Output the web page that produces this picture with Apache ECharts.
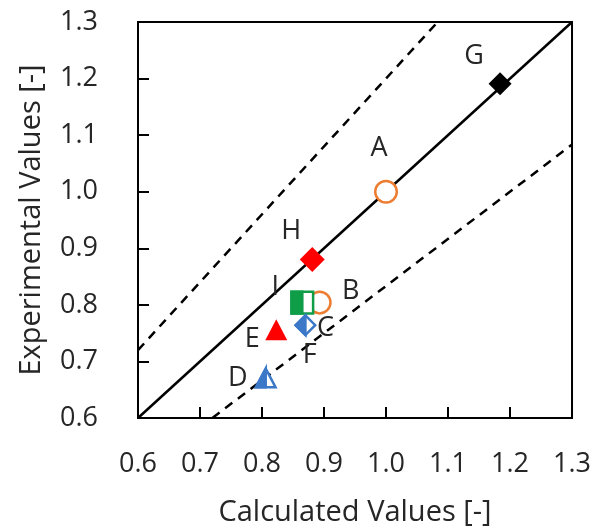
<!DOCTYPE html>
<html>
<head>
<meta charset="utf-8">
<script src="https://cdn.jsdelivr.net/npm/echarts@6/dist/echarts.min.js"></script>
<style>
html,body{margin:0;padding:0;background:#fff;}
#chart{width:594px;height:532px;}
</style>
</head>
<body>
<div id="chart"></div>
<script>
// ---- data ----
var pointNames = ['G', 'A', 'H', 'B', 'I', 'C', 'E', 'D'];
var calcValues = [1.184, 1.000, 0.881, 0.893, 0.865, 0.870, 0.823, 0.806];
var expValues  = [1.191, 1.000, 0.880, 0.804, 0.804, 0.764, 0.755, 0.670];
var extraLabelNames = ['F'];
var extraLabelCalc = [0.877];
var extraLabelExp = [0.711];
var parityLine = [[0.6, 0.6], [1.3, 1.3]];
var upperBound = [[0.6, 0.72], [1.0833, 1.3]];
var lowerBound = [[0.72, 0.6], [1.3, 1.0833]];
var tickLabels = ['0.6', '0.7', '0.8', '0.9', '1.0', '1.1', '1.2', '1.3'];

// ---- styles ----
var FONT = '"Open Sans", "Noto Sans", sans-serif';
var TEXT = '#262626';
var markerStyle = {
  G: {shape: 'diamond', fill: 'full', color: '#000000', size: 23},
  A: {shape: 'circle', fill: 'none', color: '#ED7D31', size: 24},
  H: {shape: 'diamond', fill: 'full', color: '#FF0000', size: 25},
  B: {shape: 'circle', fill: 'none', color: '#ED7D31', size: 24},
  I: {shape: 'square', fill: 'half', color: '#0F9D48', size: 24},
  C: {shape: 'diamond', fill: 'half', color: '#3B78C8', size: 22},
  E: {shape: 'triangle', fill: 'full', color: '#FF0000', size: 22},
  D: {shape: 'triangle', fill: 'half', color: '#3B78C8', size: 22}
};
var labelOffset = {
  G: [-26, -27], A: [-7, -43], H: [-21, -28], B: [31, -11], I: [-27, -15],
  C: [20, 3], E: [-24, 9], D: [-28, 0]
};

var pointData = pointNames.map(function (n, i) { return [calcValues[i], expValues[i], i]; });
var extraData = extraLabelNames.map(function (n, i) { return [extraLabelCalc[i], extraLabelExp[i], i]; });

function shapePoints(shape, h) {
  if (shape === 'diamond') return [[0, -h], [h, 0], [0, h], [-h, 0]];
  if (shape === 'triangle') return [[0, -h], [h, h * 0.9], [-h, h * 0.9]];
  if (shape === 'square') return [[-h, -h], [h, -h], [h, h], [-h, h]];
  return null;
}
function halfPoints(shape, h) {
  if (shape === 'diamond') return [[0, -h], [0, h], [-h, 0]];
  if (shape === 'triangle') return [[0, -h], [0, h * 0.9], [-h, h * 0.9]];
  if (shape === 'square') return [[-h, -h], [0, -h], [0, h], [-h, h]];
  return null;
}
function shift(pts, cx, cy) { return pts.map(function (p) { return [p[0] + cx, p[1] + cy]; }); }

function renderMarker(params, api) {
  var idx = api.value(2);
  var name = pointNames[idx];
  var st = markerStyle[name];
  var c = api.coord([api.value(0), api.value(1)]);
  var h = st.size / 2;
  var children = [];
  if (st.shape === 'circle') {
    children.push({type: 'circle', shape: {cx: c[0], cy: c[1], r: h - 1.2},
      style: {fill: st.fill === 'full' ? st.color : '#ffffff', stroke: st.color, lineWidth: 2.5}});
  } else if (st.fill === 'full') {
    children.push({type: 'polygon', shape: {points: shift(shapePoints(st.shape, h), c[0], c[1])},
      style: {fill: st.color}});
  } else {
    var hh = h - 1.2;
    children.push({type: 'polygon', shape: {points: shift(shapePoints(st.shape, hh), c[0], c[1])},
      style: {fill: '#ffffff', stroke: st.color, lineWidth: 2.5, lineJoin: 'miter'}});
    children.push({type: 'polygon', shape: {points: shift(halfPoints(st.shape, hh), c[0], c[1])},
      style: {fill: st.color, stroke: st.color, lineWidth: 2.5, lineJoin: 'miter'}});
  }
  var off = labelOffset[name];
  children.push({type: 'text', style: {text: name, x: c[0] + off[0], y: c[1] + off[1],
    align: 'center', verticalAlign: 'middle', fontFamily: FONT, fontSize: 27, fill: TEXT}});
  return {type: 'group', children: children};
}

function renderExtraLabel(params, api) {
  var c = api.coord([api.value(0), api.value(1)]);
  return {type: 'text', style: {text: extraLabelNames[api.value(2)], x: c[0], y: c[1],
    align: 'center', verticalAlign: 'middle', fontFamily: FONT, fontSize: 27, fill: TEXT}};
}

var chart = echarts.init(document.getElementById('chart'), null, {renderer: 'canvas'});
var axisCommon = {
  type: 'value', min: 0.6, max: 1.3, interval: 0.1,
  axisLine: {show: true, lineStyle: {color: '#000', width: 2}},
  axisTick: {show: true, inside: true, length: 11, lineStyle: {color: '#000', width: 2}},
  splitLine: {show: false},
  nameLocation: 'middle',
  nameTextStyle: {fontFamily: FONT, fontSize: 29, color: TEXT, width: 500, overflow: 'none'}
};
chart.setOption({
  animation: false,
  backgroundColor: '#ffffff',
  grid: {left: 138, right: 17, top: 22, bottom: 112, show: true, borderColor: '#000', borderWidth: 2, containLabel: false},
  xAxis: Object.assign({}, axisCommon, {
    name: 'Calculated Values [-]', nameGap: 80,
    axisLabel: {margin: 33, fontFamily: FONT, fontSize: 27, color: TEXT,
      formatter: function (v) { return tickLabels[Math.round((v - 0.6) * 10)]; }}
  }),
  yAxis: Object.assign({}, axisCommon, {
    name: 'Experimental Values [-]', nameGap: 92,
    axisLabel: {margin: 40, fontFamily: FONT, fontSize: 27, color: TEXT,
      formatter: function (v) { return tickLabels[Math.round((v - 0.6) * 10)]; }}
  }),
  series: [
    {type: 'line', data: parityLine, symbol: 'none', lineStyle: {color: '#000', width: 2.5}, z: 1},
    {type: 'line', data: upperBound, symbol: 'none', lineStyle: {color: '#000', width: 2.5, type: [9, 7]}, z: 1},
    {type: 'line', data: lowerBound, symbol: 'none', lineStyle: {color: '#000', width: 2.5, type: [9, 7]}, z: 1},
    {type: 'custom', data: pointData, renderItem: renderMarker, z: 3},
    {type: 'custom', data: extraData, renderItem: renderExtraLabel, z: 3}
  ]
});
</script>
</body>
</html>
